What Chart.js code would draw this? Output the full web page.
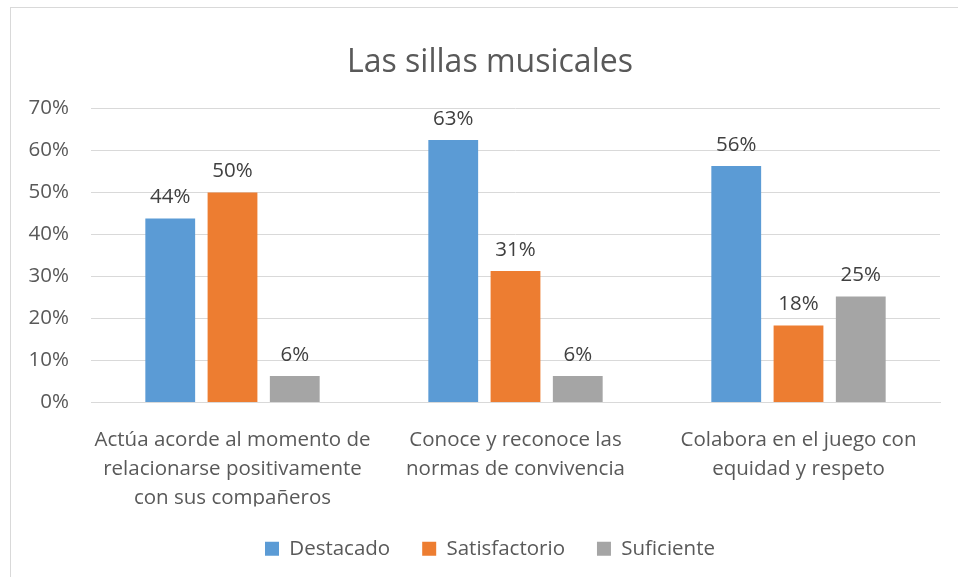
<!DOCTYPE html>
<html>
<head>
<meta charset="utf-8">
<script src="https://cdn.jsdelivr.net/npm/chart.js@4.4.1/dist/chart.umd.min.js"></script>
<style>
    html, body { margin: 0; padding: 0; background: #fff; }
    .frame {
        position: absolute; left: 10px; top: 7px; width: 1000px; height: 620px;
        border: 1px solid #d9d9d9; box-sizing: border-box;
    }
    .wrap { position: absolute; left: 0; top: 0; width: 958px; height: 577px; }
</style>
</head>
<body>
<div class="frame"></div>
<div class="wrap"><canvas id="chart" width="958" height="577"></canvas></div>
<script>
// Chart data
const categories = [
    ['Actúa acorde al momento de', 'relacionarse positivamente', 'con sus compañeros'],
    ['Conoce y reconoce las', 'normas de convivencia'],
    ['Colabora en el juego con', 'equidad y respeto']
];
const destacado = [43.8, 62.5, 56.3];
const satisfactorio = [50, 31.3, 18.3];
const suficiente = [6.3, 6.3, 25.2];
const yTicks = [0, 10, 20, 30, 40, 50, 60, 70];

const textColor = '#595959';
const fontFamily = "'Open Sans', sans-serif";
const fontSize = 20.5;

// Draws the % labels above each bar
const barLabels = {
    id: 'barLabels',
    afterDatasetsDraw(chart) {
        const ctx = chart.ctx;
        ctx.save();
        ctx.font = fontSize + 'px ' + fontFamily;
        ctx.fillStyle = '#404040';
        ctx.textAlign = 'center';
        ctx.textBaseline = 'bottom';
        chart.data.datasets.forEach((ds, i) => {
            chart.getDatasetMeta(i).data.forEach((bar, j) => {
                ctx.fillText(Math.round(ds.data[j]) + '%', bar.x, bar.y - 11);
            });
        });
        ctx.restore();
    }
};

const ctx = document.getElementById('chart').getContext('2d');
new Chart(ctx, {
    type: 'bar',
    data: {
        labels: categories,
        datasets: [{
            label: 'Destacado',
            data: destacado,
            backgroundColor: '#5B9BD5'
        }, {
            label: 'Satisfactorio',
            data: satisfactorio,
            backgroundColor: '#ED7D31'
        }, {
            label: 'Suficiente',
            data: suficiente,
            backgroundColor: '#A5A5A5'
        }]
    },
    options: {
        responsive: false,
        animation: false,
        layout: { padding: { left: 40, right: 18, top: 0, bottom: 8 } },
        datasets: {
            bar: { categoryPercentage: 0.66, barPercentage: 0.8 }
        },
        plugins: {
            title: {
                display: true,
                text: 'Las sillas musicales',
                color: textColor,
                font: { family: fontFamily, size: 32, weight: 'normal' },
                padding: { top: 44, bottom: 26 }
            },
            legend: {
                position: 'bottom',
                labels: {
                    color: textColor,
                    font: { family: fontFamily, size: fontSize },
                    boxWidth: 14,
                    boxHeight: 14,
                    padding: 32
                }
            },
            tooltip: { enabled: false }
        },
        scales: {
            x: {
                grid: { display: false },
                border: { color: '#d9d9d9', width: 1 },
                ticks: {
                    color: textColor,
                    font: { family: fontFamily, size: fontSize, lineHeight: 1.42 },
                    maxRotation: 0,
                    padding: 15
                },
                afterFit: s => { s.height = 104; }
            },
            y: {
                min: 0,
                max: 70,
                afterBuildTicks: s => { s.ticks = yTicks.map(v => ({ value: v })); },
                grid: { color: '#d9d9d9', lineWidth: 1, drawTicks: false },
                border: { display: false },
                ticks: {
                    color: textColor,
                    font: { family: fontFamily, size: fontSize },
                    padding: 22,
                    callback: v => v + '%'
                },
                afterFit: s => { s.width = 51; },
                // labels are wider than the narrow axis box, so don't clip them
                afterUpdate: s => { s._computeLabelArea = () => undefined; }
            }
        }
    },
    plugins: [barLabels]
});
</script>
</body>
</html>
